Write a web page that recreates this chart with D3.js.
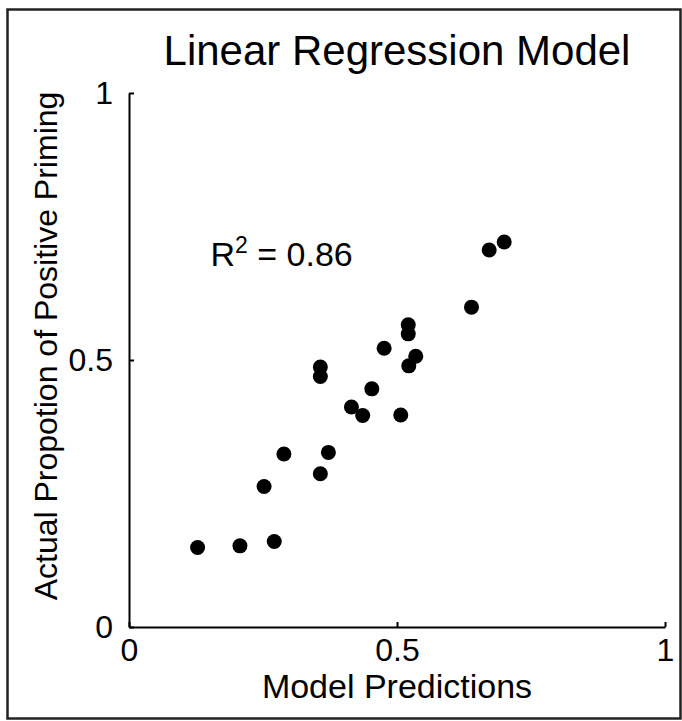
<!DOCTYPE html>
<html>
<head>
<meta charset="utf-8">
<script src="https://cdn.jsdelivr.net/npm/d3@7"></script>
<style>
  html, body { margin: 0; padding: 0; background: #fff; }
  svg { display: block; font-family: "Liberation Sans", Arial, Helvetica, sans-serif; }
</style>
</head>
<body>
<svg id="chart" width="682" height="721"></svg>
<script>
// ---- data ----
const modelPredictions = [0.128, 0.207, 0.271, 0.252, 0.289, 0.372, 0.357, 0.357, 0.357,
  0.476, 0.521, 0.521, 0.535, 0.522, 0.453, 0.415, 0.436, 0.507, 0.639, 0.672, 0.700];
const actualProportion = [0.149, 0.152, 0.160, 0.263, 0.324, 0.327, 0.287, 0.487, 0.469,
  0.522, 0.566, 0.549, 0.507, 0.489, 0.446, 0.412, 0.396, 0.397, 0.599, 0.706, 0.721];
const xTicks = [0, 0.5, 1];
const yTicks = [0, 0.5, 1];
const titleText = "Linear Regression Model";
const xLabelText = "Model Predictions";
const yLabelText = "Actual Propotion of Positive Priming";
const r2Value = "0.86";

// ---- layout ----
const W = 682, H = 721;
const plot = { left: 129, right: 665, top: 93, bottom: 627 };

const svg = d3.select("#chart");

// outer frame
svg.append("rect")
  .attr("x", 7.5).attr("y", 9.5)
  .attr("width", 673).attr("height", 709)
  .attr("fill", "none").attr("stroke", "#222").attr("stroke-width", 2.5);

const x = d3.scaleLinear().domain([0, 1]).range([plot.left, plot.right]);
const y = d3.scaleLinear().domain([0, 1]).range([plot.bottom, plot.top]);

// x axis
const xAxis = d3.axisBottom(x).tickValues(xTicks).tickSizeInner(-5).tickSizeOuter(0)
  .tickFormat(d3.format("~g")).tickPadding(11);
const gx = svg.append("g").attr("transform", `translate(0,${plot.bottom})`).call(xAxis);
gx.select(".domain").attr("stroke", "#000").attr("stroke-width", 2);
gx.selectAll(".tick line").attr("stroke", "#000").attr("stroke-width", 2);
gx.selectAll(".tick text").attr("font-size", 32).attr("fill", "#000")
  .attr("font-family", "Liberation Sans, Arial, sans-serif")
  .attr("dy", "0.71em");

// y axis
const yAxis = d3.axisLeft(y).tickValues(yTicks).tickSizeInner(-5).tickSizeOuter(0)
  .tickFormat(d3.format("~g")).tickPadding(16);
const gy = svg.append("g").attr("transform", `translate(${plot.left},0)`).call(yAxis);
gy.select(".domain").attr("stroke", "#000").attr("stroke-width", 2);
gy.selectAll(".tick line").attr("stroke", "#000").attr("stroke-width", 2);
gy.selectAll(".tick text").attr("font-size", 32).attr("fill", "#000")
  .attr("font-family", "Liberation Sans, Arial, sans-serif");

// points
const pts = modelPredictions.map((v, i) => ({ x: v, y: actualProportion[i] }));
svg.append("g").selectAll("circle").data(pts).join("circle")
  .attr("cx", d => x(d.x)).attr("cy", d => y(d.y))
  .attr("r", 7.5).attr("fill", "#000");

// title
svg.append("text")
  .attr("x", (plot.left + plot.right) / 2).attr("y", 65)
  .attr("text-anchor", "middle").attr("font-size", 42).attr("fill", "#000")
  .text(titleText);

// x label
svg.append("text")
  .attr("x", (plot.left + plot.right) / 2).attr("y", 698)
  .attr("text-anchor", "middle").attr("font-size", 34).attr("fill", "#000")
  .text(xLabelText);

// y label
svg.append("text")
  .attr("transform", `translate(57,346) rotate(-90)`)
  .attr("text-anchor", "middle").attr("font-size", 32).attr("fill", "#000")
  .text(yLabelText);

// R^2 annotation
const r2 = svg.append("text")
  .attr("x", x(0.152)).attr("y", 266)
  .attr("font-size", 34).attr("fill", "#000");
r2.append("tspan").text("R");
r2.append("tspan").attr("font-size", 23).attr("dy", -13).text("2");
r2.append("tspan").attr("dy", 13).text(" = " + r2Value);
</script>
</body>
</html>
